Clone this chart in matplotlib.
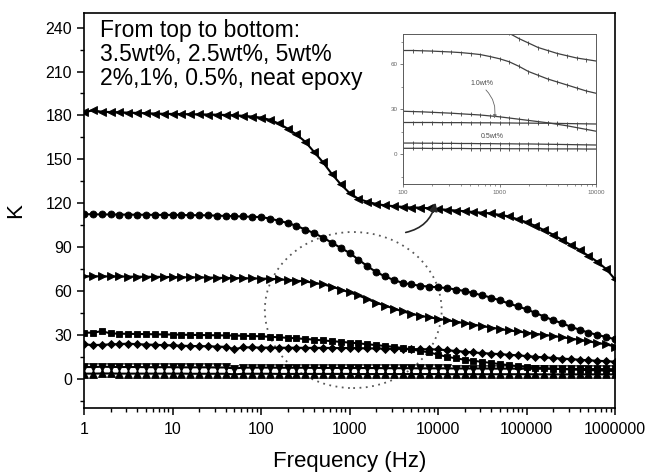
import numpy as np
import matplotlib
matplotlib.use('Agg')
import matplotlib.pyplot as plt
from matplotlib.patches import Ellipse
from matplotlib.ticker import MultipleLocator, LogLocator, FixedLocator, FixedFormatter, NullFormatter

plt.rcParams['font.family'] = ['Liberation Sans', 'DejaVu Sans']

####################### DATA ###############################
# frequency points, 10 per decade from 1 Hz to 1 MHz
freq = 10 ** (np.arange(0, 61) / 10)

k_35 = [182, 183.5, 182.5, 182.3, 182.1, 181.9, 181.7, 181.5, 181.3, 181.1,
        181, 180.9, 180.8, 180.7, 180.6, 180.5, 180.3, 180.1, 179.7, 179.2,
        178.5, 177, 174.5, 171, 167, 162, 155, 148, 140, 133,
        127, 123, 121, 119.5, 118.5, 118, 117.5, 117, 117, 116.5,
        116, 115.5, 115, 114.5, 114, 113.5, 113, 112, 111, 109,
        107, 104.5, 101.5, 98.5, 95, 91.5, 88, 84, 80, 75, 68]

k_25 = [112.5, 112.4, 112.3, 112.3, 112.2, 112.2, 112.1, 112.1, 112, 112,
        112, 111.9, 111.8, 111.8, 111.7, 111.5, 111.3, 111.1, 110.9, 110.7,
        110.5, 109.5, 108, 106.5, 104.5, 102, 99.5, 96.5, 93, 89.5,
        86, 81.5, 77, 73, 70, 67.5, 65.5, 64.5, 63.5, 63,
        62.5, 62, 61, 60, 58.5, 57, 55.5, 53.5, 51.5, 49.5,
        47.5, 45, 42.5, 40, 38, 35.5, 33.5, 31.5, 30, 28.5, 27]

k_5 = [70, 70, 70, 69.9, 69.9, 69.8, 69.8, 69.7, 69.7, 69.6,
       69.5, 69.4, 69.3, 69.3, 69.2, 69, 68.9, 68.8, 68.7, 68.6,
       68.5, 68.3, 68, 67.5, 67, 66.5, 65.5, 64.5, 63, 61,
       59, 57, 54.5, 52, 50, 48, 46, 44.5, 43, 42,
       41, 40, 39, 38, 37, 36, 35, 34, 33, 32.3,
       31.5, 30.7, 30, 29.2, 28.4, 27.5, 26.5, 25.5, 24.5, 23.5, 22]

k_2 = [31.5, 31.5, 32.5, 31, 30.8, 30.7, 30.6, 30.5, 30.4, 30.3,
       30.2, 30.1, 30, 29.9, 29.8, 29.7, 29.6, 29.5, 29.4, 29.2,
       29, 28.7, 28.3, 28, 27.6, 27.2, 26.7, 26.2, 25.7, 25.2,
       24.7, 24.2, 23.6, 23, 22.4, 21.8, 21, 20, 19, 18,
       16.5, 15, 14, 13, 12.3, 11.5, 10.8, 10, 9.3, 8.6,
       8, 7.6, 7.2, 6.9, 6.6, 6.3, 6.1, 5.9, 5.7, 5.5, 5.3]

k_1 = [23.5, 23, 23.2, 23.5, 23.7, 24, 23.6, 23.4, 23.2, 23,
       22.8, 22.6, 22.4, 22.3, 22.2, 22, 21.8, 20.2, 21.5, 21.4,
       21.3, 21.3, 21.2, 21.2, 21.2, 21.1, 21.1, 21.1, 21, 21,
       21, 20.9, 20.8, 20.7, 20.6, 20.5, 20.4, 20.3, 20.2, 20.1,
       20, 19.5, 19, 18.5, 18, 17.5, 17.2, 16.8, 16.4, 16,
       15.5, 15, 14.6, 14.2, 13.8, 13.4, 13, 12.6, 12.3, 12, 11.7]

k_05 = [8, 8, 8.2, 8.1, 8, 8, 8, 7.9, 7.9, 7.9,
        7.9, 7.8, 7.8, 7.8, 7.8, 7.7, 7.7, 7, 7.6, 7.6,
        7.6, 7.6, 7.5, 7.5, 7.5, 7.5, 7.4, 7.4, 7.4, 7.4,
        7.3, 7.3, 7.3, 7.3, 7.2, 7.2, 7.2, 7.2, 7.1, 7.1,
        7.1, 7.1, 7, 7, 7, 7, 6.9, 6.9, 6.9, 6.9,
        6.8, 6.8, 6.8, 6.8, 6.7, 6.7, 6.7, 6.6, 6.6, 6.6, 6.5]

k_neat = [3.5, 3.5, 3.6, 3.6, 3.5, 3.5, 3.5, 3.5, 3.5, 3.5,
          3.5, 3.5, 3.4, 3.4, 3.4, 3.4, 3.4, 3, 3.4, 3.4,
          3.4, 3.4, 3.3, 3.3, 3.3, 3.3, 3.3, 3.3, 3.3, 3.3,
          3.3, 3.2, 3.2, 3.2, 3.2, 3.2, 3.2, 3.2, 3.2, 3.2,
          3.2, 3.1, 3.1, 3.1, 3.1, 3.1, 3.1, 3.1, 3.1, 3.1,
          3.1, 3, 3, 3, 3, 3, 3, 3, 3, 3, 3]

series = [(k_35, '<', 5.5), (k_25, 'o', 5), (k_5, '>', 5.5), (k_2, 's', 4.2),
          (k_1, 'D', 4), (k_05, 'v', 5.2), (k_neat, '^', 5.2)]

# inset (zoom of 100 Hz - 10 kHz)
ins_freq = 10 ** (np.arange(20, 41) / 10)
ins_a = [None] * 10 + [85, 80.5, 77, 74, 71, 69, 67, 65.5, 64, 63, 62]
ins_b = [69, 69, 68.8, 68.6, 68.3, 68, 67.6, 67, 66.3, 65, 63.5,
         61.5, 58.5, 55, 52.5, 50, 48, 46, 44, 42, 40.5]
ins_c = [28.5, 28.3, 28.1, 27.8, 27.5, 27.2, 26.8, 26.4, 26, 25.4, 24.8,
         24, 23.2, 22.4, 21.6, 20.8, 19.8, 18.8, 17.6, 16.4, 15.2]
ins_d = [21, 21, 21, 21, 20.9, 20.9, 20.9, 20.8, 20.8, 20.8, 20.7,
         20.7, 20.6, 20.6, 20.5, 20.5, 20.4, 20.3, 20.2, 20.1, 20]
ins_e = [7.3, 7.3, 7.2, 7.2, 7.1, 7.1, 7, 7, 6.9, 6.9, 6.8,
         6.8, 6.7, 6.7, 6.6, 6.5, 6.4, 6.3, 6.2, 6.1, 6]
ins_f = [3.8, 3.8, 3.8, 3.7, 3.7, 3.7, 3.7, 3.6, 3.6, 3.6, 3.6,
         3.5, 3.5, 3.5, 3.5, 3.4, 3.4, 3.4, 3.4, 3.3, 3.3]

x_ticks = [1, 10, 100, 1000, 10000, 100000, 1000000]
x_labels = ['1', '10', '100', '1000', '10000', '100000', '1000000']

############## PLOT ############################################
fig = plt.figure(figsize=(6.45, 4.76), dpi=100)
ax = fig.add_axes([84 / 645, 68 / 476, 531 / 645, 395 / 476])

for vals, mk, ms in series:
    ax.plot(freq, vals, color='black', lw=1.5, marker=mk, ms=ms,
            markeredgewidth=0.6, markeredgecolor='black')

ax.set_xscale('log')
ax.set_xlim(1, 1e6)
ax.set_ylim(-20, 250)
ax.xaxis.set_major_locator(FixedLocator(x_ticks))
ax.xaxis.set_major_formatter(FixedFormatter(x_labels))
ax.xaxis.set_minor_locator(LogLocator(base=10, subs=np.arange(2, 10)))
ax.xaxis.set_minor_formatter(NullFormatter())
ax.yaxis.set_major_locator(FixedLocator([0, 30, 60, 90, 120, 150, 180, 210, 240]))
ax.yaxis.set_minor_locator(MultipleLocator(15))
ax.tick_params(which='major', direction='out', length=5, width=1.1, labelsize=11.5, colors='black')
ax.tick_params(which='minor', direction='out', length=3, width=1.0)
ax.tick_params(axis='x', pad=5)
for s in ax.spines.values():
    s.set_linewidth(1.2)

ax.set_xlabel('Frequency (Hz)', fontsize=16, labelpad=10)
ax.set_ylabel('K', fontsize=16, labelpad=14)

ax.text(0.03, 0.985, 'From top to bottom:\n3.5wt%, 2.5wt%, 5wt%\n2%,1%, 0.5%, neat epoxy',
        transform=ax.transAxes, fontsize=16.5, va='top', ha='left', linespacing=1.05)

# dotted circle around the crossing region
circ = Ellipse((0.507, 0.248), 0.333, 0.395, transform=ax.transAxes, fill=False,
               ls=(0, (1, 2.5)), lw=1.3, edgecolor='0.35')
ax.add_patch(circ)

# curved arrow pointing to the inset
ax.annotate('', xy=(436 / 645, 1 - 200 / 476), xytext=(403 / 645, 1 - 233 / 476),
            xycoords='figure fraction', textcoords='figure fraction',
            arrowprops=dict(arrowstyle='-|>', connectionstyle='arc3,rad=0.35',
                            color='0.15', lw=1.2, mutation_scale=12))

# inset
ins = fig.add_axes([403 / 645, 1 - 184 / 476, 193 / 645, 150 / 476])
for vals in [ins_a, ins_b, ins_c, ins_d, ins_e, ins_f]:
    v = np.array([np.nan if q is None else q for q in vals], dtype=float)
    ins.plot(ins_freq, v, color='0.25', lw=0.9, marker='|', ms=3, mew=0.6)
ins.set_xscale('log')
ins.set_xlim(100, 10000)
ins.set_ylim(-20, 80)
ins.xaxis.set_major_locator(FixedLocator([100, 1000, 10000]))
ins.xaxis.set_major_formatter(FixedFormatter(['100', '1000', '10000']))
ins.xaxis.set_minor_locator(LogLocator(base=10, subs=np.arange(2, 10)))
ins.xaxis.set_minor_formatter(NullFormatter())
ins.yaxis.set_major_locator(FixedLocator([0, 30, 60]))
ins.yaxis.set_minor_locator(MultipleLocator(15))
ins.tick_params(which='major', direction='out', length=2, width=0.6, labelsize=4.5,
                colors='0.4', pad=2)
ins.tick_params(which='minor', direction='out', length=1.2, width=0.5, colors='0.4')
for s in ins.spines.values():
    s.set_linewidth(0.7)
    s.set_color('0.35')

ins.text(660, 47, '1.0wt%', fontsize=5, color='0.3', ha='center', va='center')
ins.annotate('', xy=(870, 22), xytext=(690, 44),
             arrowprops=dict(arrowstyle='-|>', connectionstyle='arc3,rad=-0.3',
                             color='0.4', lw=0.6, mutation_scale=5))
ins.text(840, 12, '0.5wt%', fontsize=5, color='0.3', ha='center', va='center')

fig.savefig('out.png', dpi=100)
